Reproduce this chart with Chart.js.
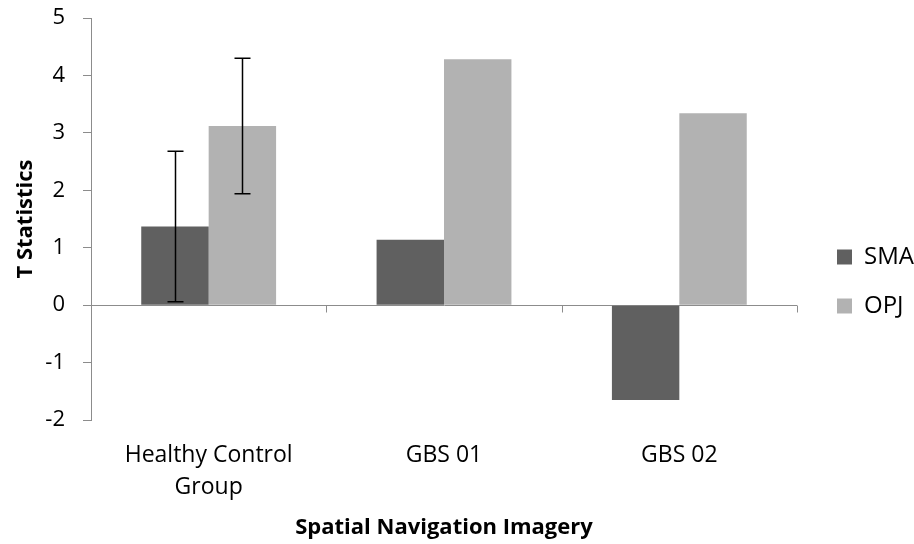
<!DOCTYPE html>
<html>
<head>
<meta charset="utf-8">
<title>T Statistics - Spatial Navigation Imagery</title>
<script src="https://cdn.jsdelivr.net/npm/chart.js@4.4.1/dist/chart.umd.min.js"></script>
<style>
  html, body { margin: 0; padding: 0; background: #fff; }
  #wrap { width: 914px; height: 544px; }
</style>
</head>
<body>
<div id="wrap"><canvas id="chart" width="914" height="544"></canvas></div>
<script>
// data
const categories = [['Healthy Control', 'Group'], 'GBS 01', 'GBS 02'];
const smaValues = [1.37, 1.14, -1.65];
const opjValues = [3.12, 4.28, 3.34];
// error bars (only the control group has them)
const smaErrLow  = [0.06, null, null];
const smaErrHigh = [2.68, null, null];
const opjErrLow  = [1.94, null, null];
const opjErrHigh = [4.30, null, null];
const yTicks = [-2, -1, 0, 1, 2, 3, 4, 5];

const AXIS = '#8c8c8c';
const FONT = 'Open Sans';

// vertical error bars with caps
const errorBars = {
  id: 'errorBars',
  afterDatasetsDraw(chart){
    const y = chart.scales.y, ctx = chart.ctx;
    const errs = [[smaErrLow, smaErrHigh], [opjErrLow, opjErrHigh]];
    ctx.save();
    ctx.strokeStyle = '#000'; ctx.lineWidth = 1.5;
    errs.forEach(([lo, hi], d)=>{
      chart.getDatasetMeta(d).data.forEach((bar, i)=>{
        if(lo[i] == null || hi[i] == null) return;
        const x = Math.round(bar.x) + 0.5;
        const t = y.getPixelForValue(hi[i]), b = y.getPixelForValue(lo[i]);
        ctx.beginPath();
        ctx.moveTo(x, t); ctx.lineTo(x, b);
        ctx.moveTo(x-8, t); ctx.lineTo(x+8, t);
        ctx.moveTo(x-8, b); ctx.lineTo(x+8, b);
        ctx.stroke();
      });
    });
    ctx.restore();
  }
};

// category boundary ticks hanging below the zero line
const zeroTicks = {
  id: 'zeroTicks',
  afterDraw(chart){
    const x = chart.scales.x, y = chart.scales.y, ctx = chart.ctx;
    const y0 = Math.round(y.getPixelForValue(0)) + 0.5;
    const half = (x.getPixelForValue(1) - x.getPixelForValue(0)) / 2;
    ctx.save();
    ctx.strokeStyle = AXIS; ctx.lineWidth = 1;
    for(let i = 1; i <= categories.length; i++){
      const px = Math.round(x.getPixelForValue(i-1) + half) + 0.5;
      ctx.beginPath(); ctx.moveTo(px, y0); ctx.lineTo(px, y0 + 7); ctx.stroke();
    }
    ctx.restore();
  }
};

new Chart(document.getElementById('chart'), {
  type: 'bar',
  data: {
    labels: categories,
    datasets: [
      { label: 'SMA', data: smaValues, backgroundColor: '#606060' },
      { label: 'OPJ', data: opjValues, backgroundColor: '#b2b2b2' }
    ]
  },
  options: {
    responsive: false,
    animation: false,
    layout: { padding: { top: 18, right: 0, bottom: 3, left: 0 } },
    datasets: { bar: { categoryPercentage: 0.573, barPercentage: 1.0 } },
    plugins: {
      legend: {
        position: 'right',
        maxWidth: 102,
        // empty title only nudges the items down a little
        title: { display: true, text: '', font: { size: 4, lineHeight: 1 }, padding: 0 },
        labels: { boxWidth: 15, boxHeight: 15, padding: 25, color: '#000', font: { family: FONT, size: 24 } }
      },
      tooltip: { enabled: false }
    },
    scales: {
      x: {
        afterFit(s){ s.height = 121; },
        grid: { display: false, drawTicks: false },
        border: { display: false },
        ticks: { color: '#000', padding: 19, maxRotation: 0, font: { family: FONT, size: 23, lineHeight: 1.39 } },
        title: { display: true, text: 'Spatial Navigation Imagery', color: '#000', padding: { top: 12, bottom: 0 },
                 font: { family: FONT, size: 22, weight: 'bold' } }
      },
      y: {
        min: -2, max: 5,
        afterBuildTicks(s){ s.ticks = yTicks.map(v => ({ value: v })); },
        afterFit(s){ s.width = 91; s.paddingTop = 0; s.paddingBottom = 0; },
        grid: {
          color: c => c.tick && c.tick.value === 0 ? AXIS : 'rgba(0,0,0,0)',
          tickColor: AXIS, tickLength: 8, lineWidth: 1
        },
        border: { display: true, color: AXIS, width: 1 },
        ticks: { color: '#000', padding: 18, font: { family: FONT, size: 22 } },
        title: { display: true, text: 'T Statistics', color: '#000', padding: { top: 13, bottom: 0 },
                 font: { family: FONT, size: 22, weight: 'bold' } }
      },
      // empty spacer between plot and legend
      gap: {
        position: 'right', display: true,
        afterFit(s){ s.width = 15; },
        grid: { display: false }, border: { display: false }, ticks: { display: false }
      }
    }
  },
  plugins: [errorBars, zeroTicks]
});
</script>
</body>
</html>
